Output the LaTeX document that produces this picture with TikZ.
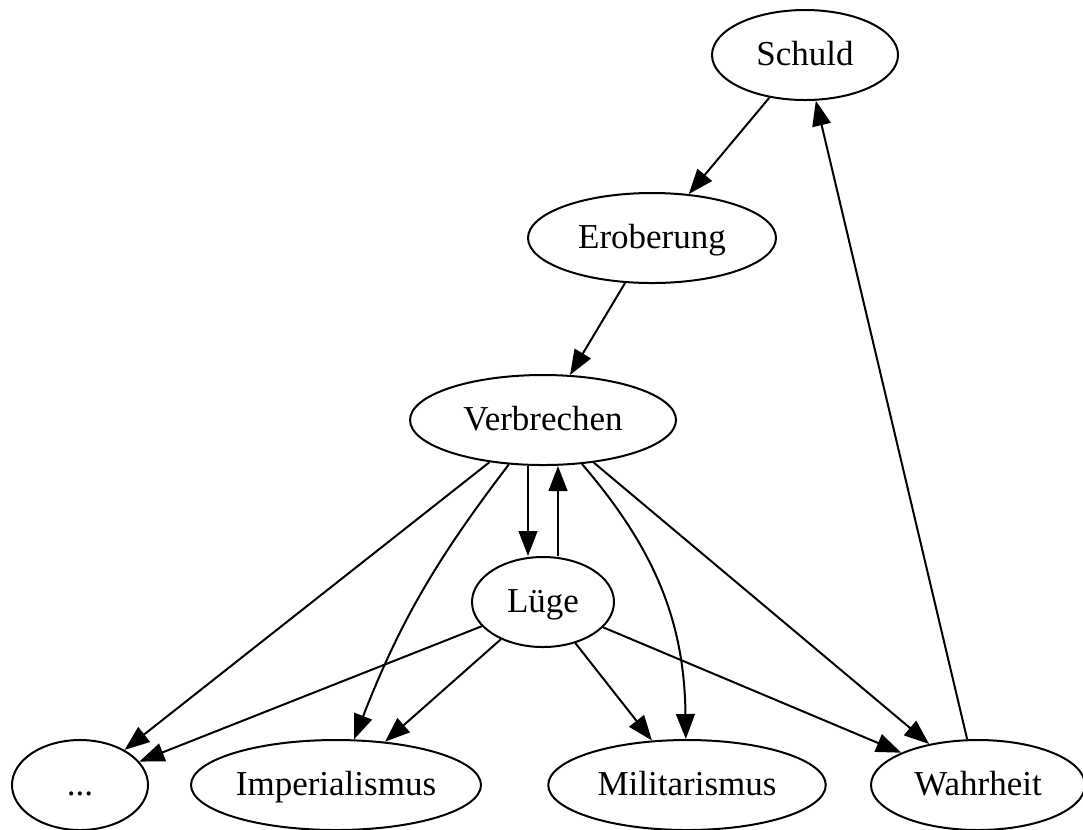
\documentclass[tikz,border=0pt]{standalone}
\usepackage{fontspec}
\setmainfont{Liberation Serif}
\usepackage{tikz}
\usetikzlibrary{positioning,shapes,arrows.meta}
\tikzset {
    style A/.style={
        draw=black,
        thick,
        fill=white,
        ellipse, % Set the shape as an ellipse
        inner sep=0pt,
        minimum height=36pt,
        text height=11pt,
        text depth=3pt,
        align=center,
    },
}

\begin{document}
\begin{tikzpicture}
[x=0.4pt, y=-0.4pt, font=\fontsize{14}{16}\selectfont, >={Triangle[length=10pt, width=7.5pt]}]
\useasboundingbox (0,0) rectangle (1083,829);

\node[style A, minimum width=74.4pt] at (805, 55) (schuld) {Schuld};
\node[style A, minimum width=99.2pt] at (652, 238) (eroberung) {Eroberung};
\node[style A, minimum width=106.4pt] at (543, 420) (verbrechen) {Verbrechen};
\node[style A, minimum width=56.8pt] at (543, 602) (luege) {Lüge};
\node[style A, minimum width=54.4pt] at (80, 785) (dots) {...};
\node[style A, minimum width=116pt] at (336, 785) (imperialismus) {Imperialismus};
\node[style A, minimum width=111pt] at (687, 785) (militarismus) {Militarismus};
\node[style A, minimum width=85.6pt] at (978, 785) (wahrheit) {Wahrheit};

\draw[thick, ->] (schuld) -- (eroberung);
\draw[thick, ->] (eroberung) -- (verbrechen);
\draw[thick, ->] (verbrechen) -- (dots);
\draw[thick, ->] (verbrechen) to[bend right=8] (imperialismus);
\draw[thick, ->] ([xshift=-6pt]verbrechen.south) -- ([xshift=-6pt]luege.north);
\draw[thick, ->] ([xshift=6pt]luege.north) -- ([xshift=6pt]verbrechen.south);
\draw[thick, ->] (verbrechen) to[bend left=20] (militarismus);
\draw[thick, ->] (verbrechen) -- (wahrheit);
\draw[thick, ->] (luege) -- (dots);
\draw[thick, ->] (luege) -- (imperialismus);
\draw[thick, ->] (luege) -- (militarismus);
\draw[thick, ->] (luege) -- (wahrheit);
\draw[thick, ->] (wahrheit) -- (schuld);
\end{tikzpicture}
\end{document}
